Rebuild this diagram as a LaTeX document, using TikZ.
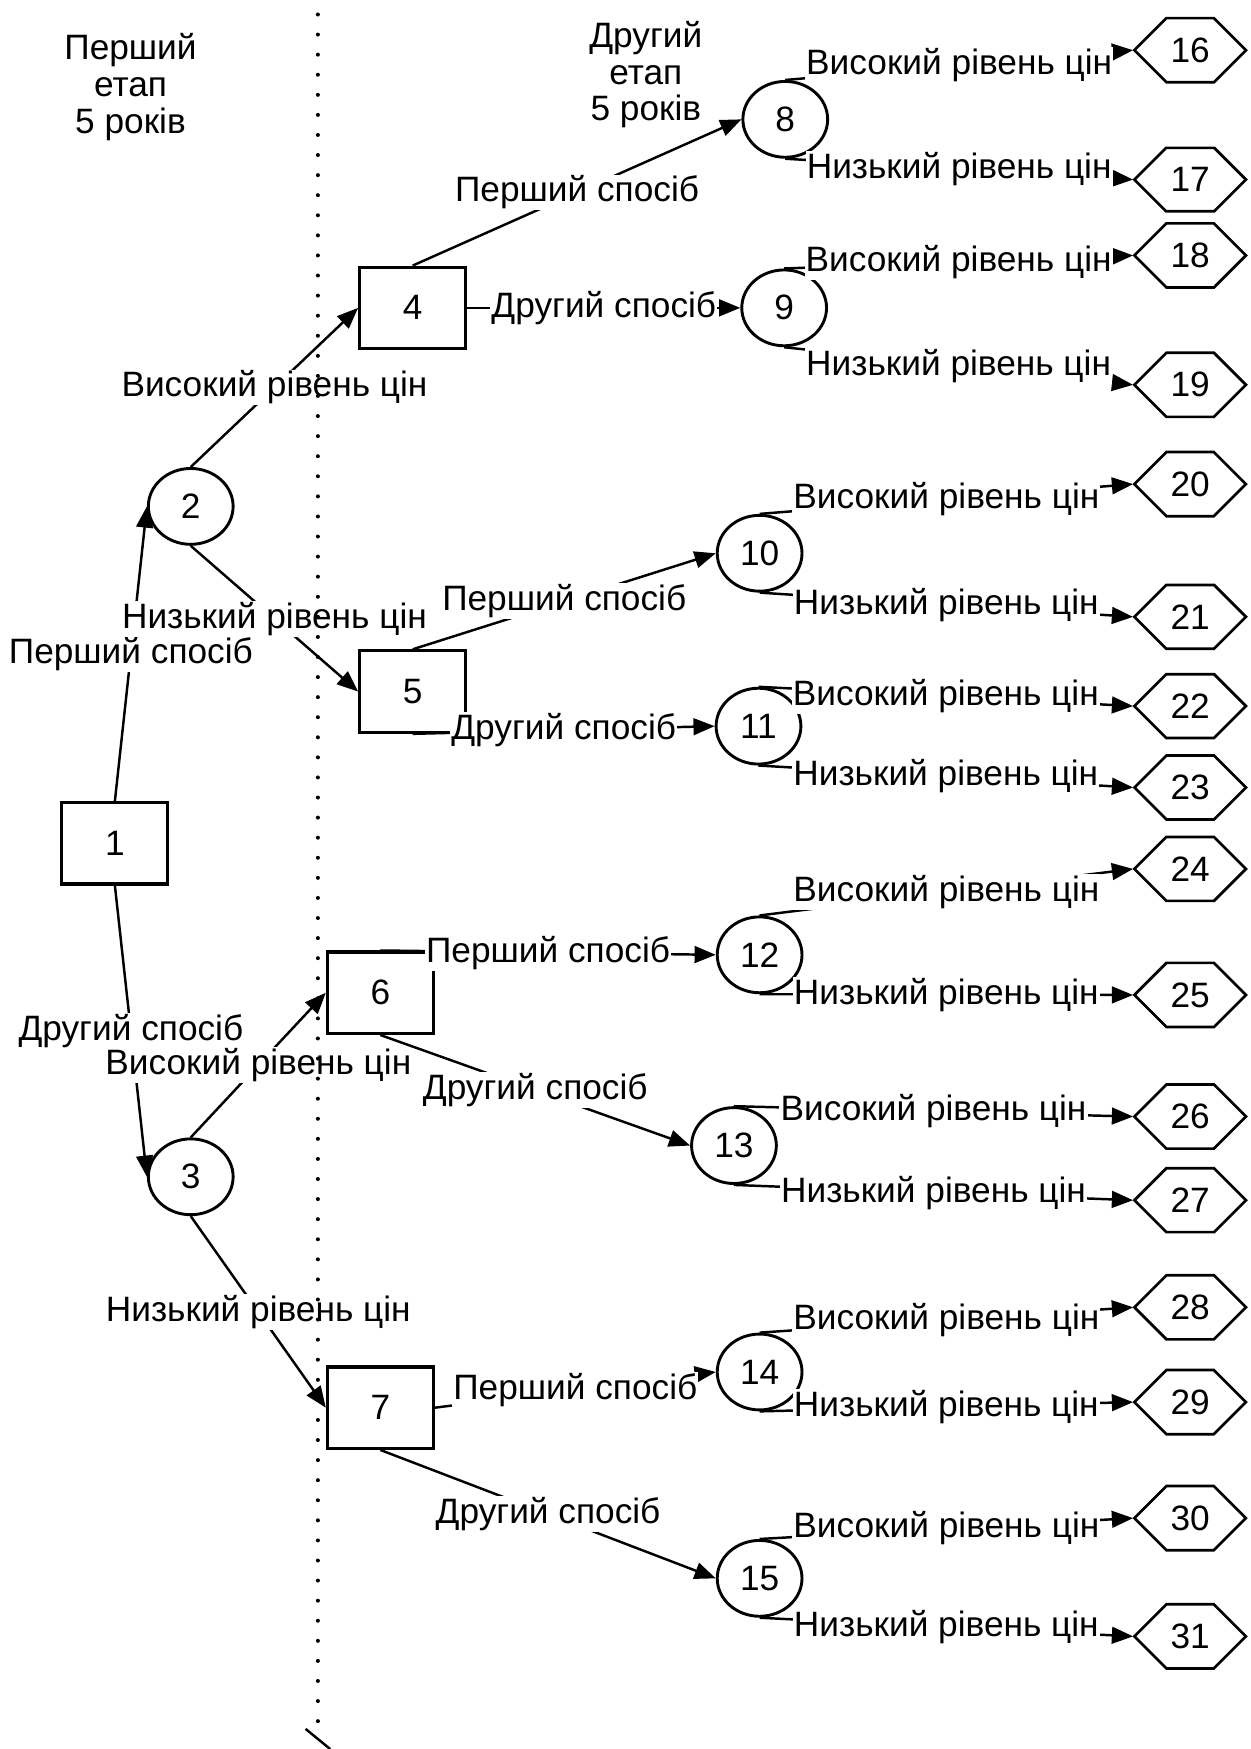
\documentclass[tikz,border=0pt]{standalone}
\usepackage{fontspec}
\setmainfont{Liberation Sans}
\usetikzlibrary{arrows.meta,shapes.geometric,shapes.misc}

\tikzset{
  vbox/.style={draw,line width=1.4pt,minimum width=47.5pt,minimum height=36.5pt,inner sep=0pt},
  vcirc/.style={draw,ellipse,line width=1.3pt,minimum width=38pt,minimum height=34pt,inner sep=0pt},
  vhex/.style={draw,chamfered rectangle,chamfered rectangle xsep=12pt,chamfered rectangle ysep=10pt,
    minimum width=50pt,minimum height=20.5pt,inner sep=0pt,line width=1.2pt},
  gilka/.style={line width=1.1pt,-{Triangle[length=9.5pt,width=7.5pt]}},
  napys/.style={fill=white,inner sep=0.5pt,midway}
}

\begin{document}
\begin{tikzpicture}[x=0.5pt,y=-0.5pt,every node/.style={font=\fontsize{15.8}{16.5}\selectfont}]
  \useasboundingbox (0,0) rectangle (1121,1568);

  % етапи
  \node[align=center] (etap1) at (117,78) {Перший\\етап\\5 років};
  \node[align=center] (etap2) at (579,67) {Другий\\етап\\5 років};

  % вузли рішень і подій
  \node[vbox] (n1) at (103,756) {1};
  \node[vcirc] (n2) at (171,454) {2};
  \node[vcirc] (n3) at (171,1055) {3};
  \node[vbox] (n4) at (370,276) {4};
  \node[vbox] (n5) at (370,620) {5};
  \node[vbox] (n6) at (341,890) {6};
  \node[vbox] (n7) at (341,1262) {7};
  \foreach \n/\x/\y in {8/704/107, 9/703/276, 10/681/496, 11/680/651,
                        12/681/856, 13/658/1027, 14/681/1230, 15/681/1415}
    \node[vcirc] (n\n) at (\x,\y) {\n};

  % кінцеві вершини
  \foreach \n/\y in {16/45, 17/161, 18/229, 19/345, 20/434, 21/553, 22/633, 23/706,
                     24/779, 25/892, 26/1001, 27/1076, 28/1172, 29/1257, 30/1361, 31/1467}
    \node[vhex] (n\n) at (1067,\y) {\n};

  % перший етап
  \draw[gilka] (n1.north) -- (n2.west) node[napys] {Перший спосіб};
  \draw[gilka] (n1.south) -- (n3.west) node[napys] {Другий спосіб};
  \draw[gilka] (n2.north) -- (n4.west) node[napys] {Високий рівень цін};
  \draw[gilka] (n2.south) -- (n5.west) node[napys] {Низький рівень цін};
  \draw[gilka] (n3.north) -- (n6.west) node[napys] {Високий рівень цін};
  \draw[gilka] (n3.south) -- (n7.west) node[napys] {Низький рівень цін};

  % другий етап
  \draw[gilka] (n4.north) -- (n8.west) node[napys] {Перший спосіб};
  \draw[gilka] (n4.east) -- (n9.west) node[napys] {Другий спосіб};
  \draw[gilka] (n5.north) -- (n10.west) node[napys] {Перший спосіб};
  \draw[gilka] (n5.south) -- (n11.west) node[napys] {Другий спосіб};
  \draw[gilka] (n6.north) -- (n12.west) node[napys] {Перший спосіб};
  \draw[gilka] (n6.south) -- (n13.west) node[napys] {Другий спосіб};
  \draw[gilka] (n7.east) -- (n14.west) node[napys] {Перший спосіб};
  \draw[gilka] (n7.south) -- (n15.west) node[napys] {Другий спосіб};

  % рівні цін
  \foreach \c/\a/\b in {8/16/17, 9/18/19, 10/20/21, 11/22/23,
                        12/24/25, 13/26/27, 14/28/29, 15/30/31} {
    \draw[gilka] (n\c.north) -- (n\a.west) node[napys] {Високий рівень цін};
    \draw[gilka] (n\c.south) -- (n\b.west) node[napys] {Низький рівень цін};
  }

  % межа етапів
  \draw[line width=1.8pt,dash pattern=on 0pt off 9pt,line cap=round] (285,13) -- (285,1550);
  \draw[line width=1.1pt] (274,1550) -- (296,1568);
\end{tikzpicture}
\end{document}
